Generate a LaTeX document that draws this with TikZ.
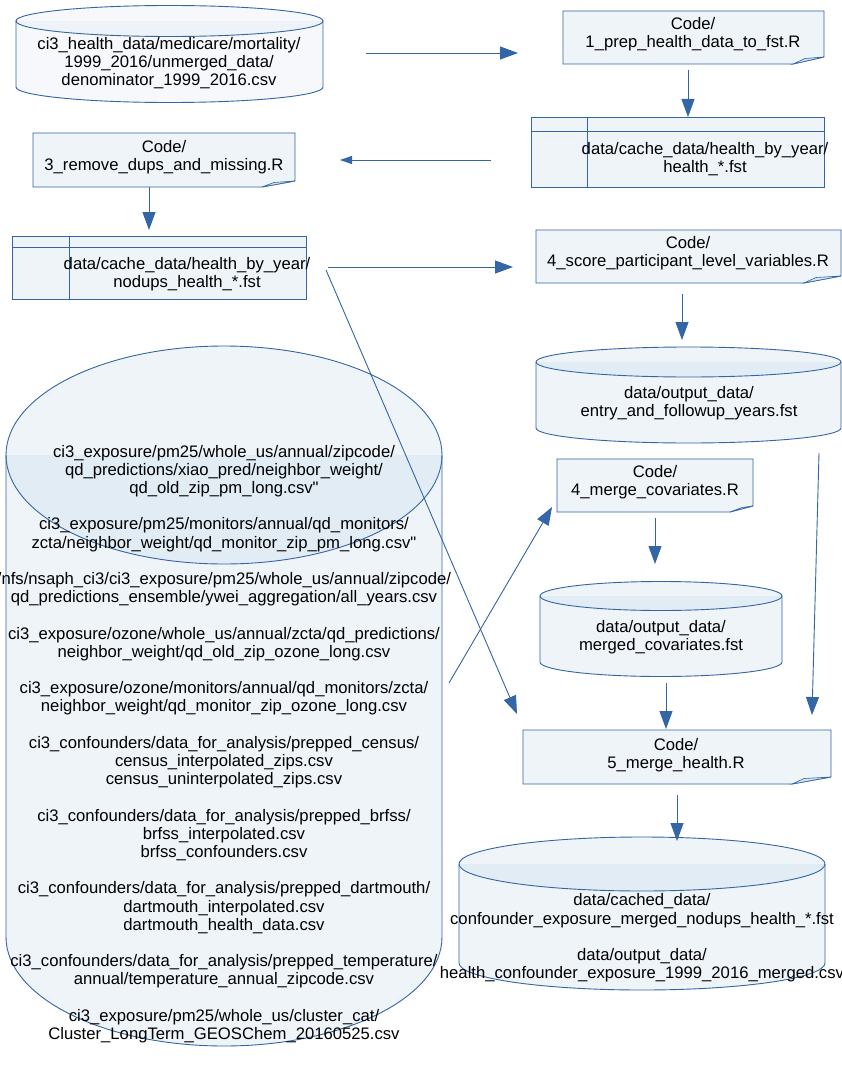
\documentclass[tikz,border=0pt]{standalone}
\usepackage{fontspec}
\setmainfont{Liberation Sans}
\newfontfamily\qfont{Liberation Sans}
\usetikzlibrary{arrows.meta,calc}
\definecolor{bl}{HTML}{3465A4}
\definecolor{fillA}{HTML}{EFF4F9}
\definecolor{bandA}{HTML}{E1ECF4}
\definecolor{fillB}{HTML}{F6F8FC}
\definecolor{bandB}{HTML}{EEF3F9}
\definecolor{foldC}{HTML}{D5E2EF}
\tikzset{
  ln/.style={draw=bl, line width=0.9pt},
  arr/.style={ln, -{Triangle[length=18pt,width=13pt]}},
  arrs/.style={ln, -{Triangle[length=12pt,width=8pt]}},
  txt/.style={align=center, inner sep=0pt, font=\fontsize{16.67}{18.2}\selectfont, text=black},
  shp/.style={rectangle, inner sep=0pt, outer sep=0pt, draw=none}
}
\newcommand\mkcyl[7]{%
  \pgfmathsetmacro\cylcx{(#1+#3)/2}%
  \pgfmathsetmacro\cylrx{(#3-#1)/2}%
  \fill[#6] (#1,-#2) -- (#1,-#4) arc[start angle=180,end angle=360,x radius=\cylrx,y radius=#5] -- (#3,-#2) -- cycle;
  \fill[#6] (\cylcx,-#2) ellipse[x radius=\cylrx,y radius=#5];
  \fill[#7] (#1,-#2) arc[start angle=180,end angle=360,x radius=\cylrx,y radius=#5] -- cycle;
  \draw[ln] (#1,-#2) -- (#1,-#4) arc[start angle=180,end angle=360,x radius=\cylrx,y radius=#5] -- (#3,-#2);
  \draw[ln] (\cylcx,-#2) ellipse[x radius=\cylrx,y radius=#5];
}
\newcommand\mknote[6]{%
  \filldraw[ln, fill=fillA] (#1,-#2) -- (#3,-#2) -- (#3,-#6) -- (#5,-#4) -- (#1,-#4) -- cycle;
  \filldraw[ln, fill=foldC, line width=0.6pt] (#5,-#4) -- ({#5+12},{-#6-1.5}) -- (#3,-#6) -- cycle;
}
\newcommand\mktab[6]{%
  \filldraw[ln, fill=fillA] (#1,-#2) rectangle (#3,-#4);
  \draw[ln] (#1,-#5) -- (#3,-#5);
  \draw[ln] (#6,-#2) -- (#6,-#4);
}
\newcommand\dq{{\qfont"}}
\begin{document}
\begin{tikzpicture}[x=1pt,y=1pt]
\fill[white] (0,0) rectangle (842,-1089);
\useasboundingbox (0,0) rectangle (842,-1089);

% shapes
\mkcyl{16}{21}{323}{87}{15.5}{fillB}{bandB}
\mknote{563}{11}{824}{64}{793}{57}
\mktab{531}{117}{824}{187}{131}{587}
\mknote{33}{133}{295}{187}{262}{181}
\mktab{12}{236}{306}{299}{247}{69}
\mknote{536}{230}{841}{283}{804}{276}
\mkcyl{536}{362}{841}{428}{15}{fillA}{bandA}
\mkcyl{6}{455}{442}{937}{109}{fillA}{bandA}
\mknote{557}{459}{753}{512}{730}{506}
\mkcyl{540}{596}{782}{662}{14.5}{fillA}{bandA}
\mknote{523}{730}{831}{784}{792}{777}
\mkcyl{459}{864}{825}{963}{27}{fillA}{bandA}

% named shape nodes
\node[shp, minimum width=307pt, minimum height=97pt] (cyl1) at (169.5,-53.5) {};
\node[shp, minimum width=261pt, minimum height=53pt] (code1) at (693.5,-37.5) {};
\node[shp, minimum width=293pt, minimum height=70pt] (tab1) at (677.5,-152) {};
\node[shp, minimum width=262pt, minimum height=54pt] (code3) at (164,-160) {};
\node[shp, minimum width=294pt, minimum height=63pt] (tab2) at (159,-267.5) {};
\node[shp, minimum width=305pt, minimum height=53pt] (code4) at (688.5,-256.5) {};
\node[shp, minimum width=305pt, minimum height=96pt] (entry) at (688.5,-395) {};
\node[shp, minimum width=436pt, minimum height=699pt] (big) at (224,-695.5) {};
\node[shp, minimum width=196pt, minimum height=53pt] (mcode) at (655,-485.5) {};
\node[shp, minimum width=242pt, minimum height=95pt] (merged) at (661,-629.5) {};
\node[shp, minimum width=308pt, minimum height=54pt] (code5) at (677,-757) {};
\node[shp, minimum width=366pt, minimum height=153pt] (final) at (642,-913.5) {};

% texts
\node[txt] (cyl1-t) at (169,-63) {ci3\_health\_data/medicare/mortality/\\1999\_2016/unmerged\_data/\\denominator\_1999\_2016.csv};
\node[txt] (code1-t) at (693,-34.5) {Code/\\1\_prep\_health\_data\_to\_fst.R};
\node[txt] (tab1-t) at (705,-159.5) {data/cache\_data/health\_by\_year/\\health\_*.fst};
\node[txt] (code3-t) at (164,-157.5) {Code/\\3\_remove\_dups\_and\_missing.R};
\node[txt] (tab2-t) at (187,-274.5) {data/cache\_data/health\_by\_year/\\nodups\_health\_*.fst};
\node[txt] (code4-t) at (688,-253) {Code/\\4\_score\_participant\_level\_variables.R};
\node[txt] (entry-t) at (689,-403) {data/output\_data/\\entry\_and\_followup\_years.fst};
\node[txt] (mcode-t) at (655,-482.5) {Code/\\4\_merge\_covariates.R};
\node[txt] (merged-t) at (661,-637.5) {data/output\_data/\\merged\_covariates.fst};
\node[txt] (code5-t) at (676,-755) {Code/\\5\_merge\_health.R};
\node[txt] (final-t) at (642,-938) {data/cached\_data/\\confounder\_exposure\_merged\_nodups\_health\_*.fst\\[18.2pt]data/output\_data/\\health\_confounder\_exposure\_1999\_2016\_merged.csv};
\node[txt] (big-t) at (224,-744) {ci3\_exposure/pm25/whole\_us/annual/zipcode/\\qd\_predictions/xiao\_pred/neighbor\_weight/\\qd\_old\_zip\_pm\_long.csv\dq\\[18.2pt]%
ci3\_exposure/pm25/monitors/annual/qd\_monitors/\\zcta/neighbor\_weight/qd\_monitor\_zip\_pm\_long.csv\dq\\[18.2pt]%
/nfs/nsaph\_ci3/ci3\_exposure/pm25/whole\_us/annual/zipcode/\\qd\_predictions\_ensemble/ywei\_aggregation/all\_years.csv\\[18.2pt]%
ci3\_exposure/ozone/whole\_us/annual/zcta/qd\_predictions/\\neighbor\_weight/qd\_old\_zip\_ozone\_long.csv\\[18.2pt]%
ci3\_exposure/ozone/monitors/annual/qd\_monitors/zcta/\\neighbor\_weight/qd\_monitor\_zip\_ozone\_long.csv\\[18.2pt]%
ci3\_confounders/data\_for\_analysis/prepped\_census/\\census\_interpolated\_zips.csv\\census\_uninterpolated\_zips.csv\\[18.2pt]%
ci3\_confounders/data\_for\_analysis/prepped\_brfss/\\brfss\_interpolated.csv\\brfss\_confounders.csv\\[18.2pt]%
ci3\_confounders/data\_for\_analysis/prepped\_dartmouth/\\dartmouth\_interpolated.csv\\dartmouth\_health\_data.csv\\[18.2pt]%
ci3\_confounders/data\_for\_analysis/prepped\_temperature/\\annual/temperature\_annual\_zipcode.csv\\[18.2pt]%
ci3\_exposure/pm25/whole\_us/cluster\_cat/\\Cluster\_LongTerm\_GEOSChem\_20160525.csv};

% connectors
\draw[arr] ([xshift=43pt,yshift=0.5pt]cyl1.east) -- ([xshift=-45pt,yshift=-15.5pt]code1.west);
\draw[arr] ([xshift=-5.5pt,yshift=-6pt]code1.south) -- ([xshift=10.5pt]tab1.north);
\draw[arrs] ([xshift=-40pt,yshift=-8pt]tab1.west) -- ([xshift=45pt]code3.east);
\draw[arr] ([xshift=-15pt]code3.south) -- ([xshift=-10pt,yshift=6pt]tab2.north);
\draw[arr] ([xshift=22pt,yshift=0.5pt]tab2.east) -- ([xshift=-23pt,yshift=-10.5pt]code4.west);
\draw[arr] ([xshift=20pt,yshift=-2.5pt]tab2.east) -- ([xshift=-6pt,yshift=16pt]code5.north west);
\draw[arr] ([xshift=-6.5pt,yshift=-11pt]code4.south) -- ([xshift=-6.5pt,yshift=7pt]entry.north);
\draw[arr] ([xshift=-22pt,yshift=-10pt]entry.south east) -- ([xshift=-19pt,yshift=15pt]code5.north east);
\draw[arr] ([xshift=7pt,yshift=12.5pt]big.east) -- ([xshift=-5pt,yshift=5pt]mcode.south west);
\draw[arr] ([yshift=-6pt]mcode.south) -- ([xshift=-6pt,yshift=18pt]merged.north);
\draw[arr] ([xshift=5pt,yshift=-6pt]merged.south) -- ([xshift=-11pt,yshift=1pt]code5.north);
\draw[arr] ([yshift=-11pt]code5.south) -- ([xshift=35pt,yshift=-4pt]final.north);
\end{tikzpicture}
\end{document}
